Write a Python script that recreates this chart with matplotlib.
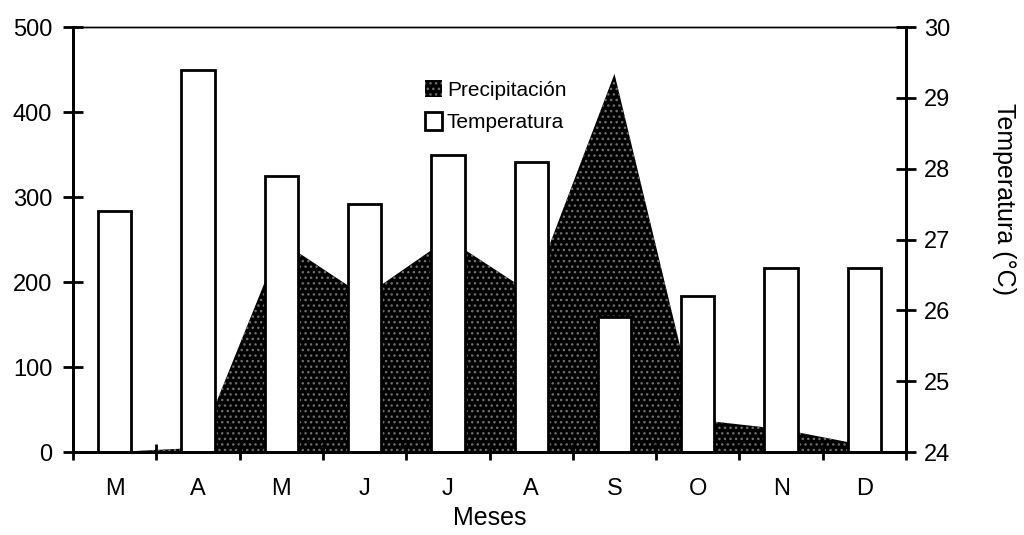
import matplotlib
matplotlib.use('Agg')
import matplotlib.pyplot as plt
import numpy as np

plt.rcParams['font.family'] = ['Liberation Sans', 'DejaVu Sans']
plt.rcParams['hatch.linewidth'] = 1.0

meses = ['M', 'A', 'M', 'J', 'J', 'A', 'S', 'O', 'N', 'D']
precipitacion = [0, 5, 248, 183, 251, 187, 445, 38, 27, 8]
temperatura = [27.4, 29.4, 27.9, 27.5, 28.2, 28.1, 25.9, 26.2, 26.6, 26.6]

x = np.arange(len(meses))

fig = plt.figure(figsize=(10.24, 5.35), dpi=100)
ax = fig.add_axes([0.0713, 0.155, 0.8135, 0.7944])

# area de precipitacion (eje izquierdo)
ax.fill_between(x, 0, precipitacion, facecolor='black', edgecolor='#6e6e6e',
                hatch='...', linewidth=0, label='Precipitación')
ax.set_xlim(-0.5, len(meses) - 0.5)
ax.set_ylim(0, 500)
ax.set_yticks(range(0, 501, 100))

# barras de temperatura (eje derecho)
ax2 = ax.twinx()
ax2.bar(x, np.array(temperatura) - 24, bottom=24, width=0.4, color='white',
        edgecolor='black', linewidth=2, label='Temperatura')
ax2.set_ylim(24, 30)
ax2.set_yticks(range(24, 31))
ax2.set_ylabel('Temperatura (°C)', fontsize=18, rotation=270, va='center')
ax2.yaxis.set_label_coords(1.118, 0.595)

# ticks del eje x entre categorias, etiquetas centradas
ax.set_xticks(np.arange(-0.5, len(meses), 1))
ax.set_xticklabels([])
ax.set_xticks(x, minor=True)
ax.set_xticklabels(meses, minor=True, fontsize=17)
ax.tick_params(axis='x', which='minor', length=0, pad=19)
ax.tick_params(axis='x', which='major', direction='inout', length=12, width=2)
ax.tick_params(axis='y', direction='inout', length=14, width=2, labelsize=17, pad=8)
ax2.tick_params(axis='y', direction='inout', length=14, width=2, labelsize=17, pad=6)
ax.set_xlabel('Meses', fontsize=18, labelpad=4)

for a in (ax, ax2):
    a.spines['top'].set_linewidth(1)
    a.spines['left'].set_linewidth(2)
    a.spines['right'].set_linewidth(2)
    a.spines['bottom'].set_linewidth(2)

h1, l1 = ax.get_legend_handles_labels()
h2, l2 = ax2.get_legend_handles_labels()
leg = ax2.legend(h1 + h2, l1 + l2, loc='upper left', bbox_to_anchor=(0.41, 0.9),
                 frameon=False, fontsize=15, handlelength=0.8, handleheight=0.9,
                 handletextpad=0.25, labelspacing=0.6, borderpad=0)

fig.savefig('out.png', dpi=100)
